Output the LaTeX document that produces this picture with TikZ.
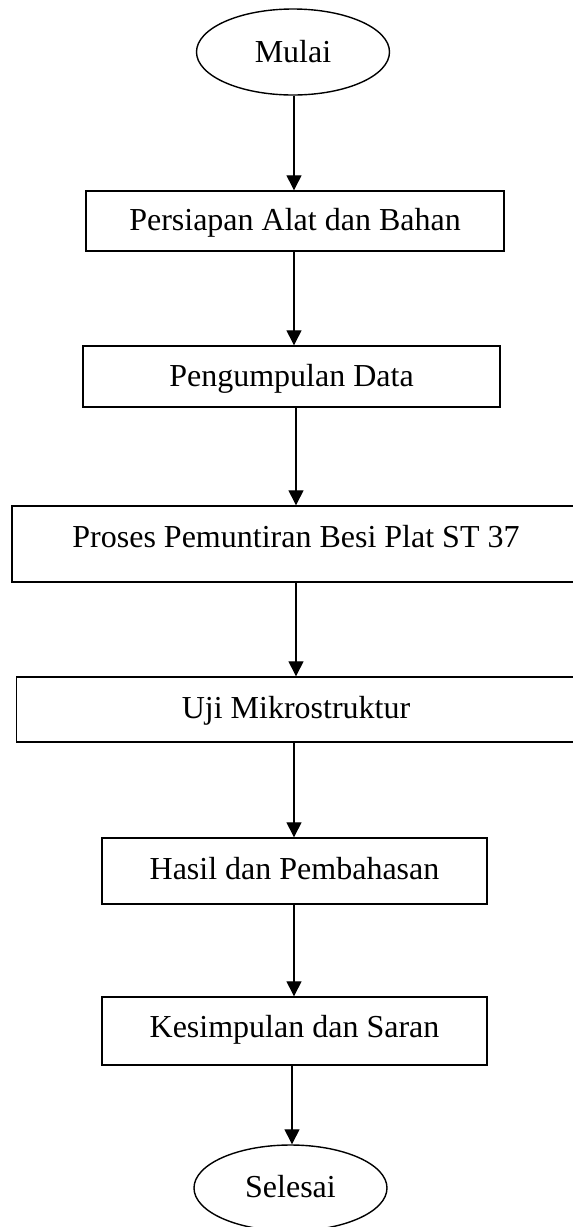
\documentclass[tikz,border=0pt]{standalone}
\usepackage{fontspec}
\setmainfont{Liberation Serif}
\usetikzlibrary{arrows.meta,shapes.geometric}
\begin{document}
\begin{tikzpicture}[x=1pt,y=-1pt,
  every node/.style={font=\fontsize{32}{36}\selectfont},
  procbox/.style={draw,line width=1.4pt,rectangle,inner xsep=0pt,inner ysep=0pt},
  termnode/.style={draw,line width=1.4pt,ellipse,inner sep=0pt},
  flow/.style={line width=1.3pt,-{Triangle[length=15pt,width=15pt]}}]
\useasboundingbox (0,0) rectangle (573,1227);
\node[termnode,minimum width=193pt,minimum height=86pt,text height=22pt,text depth=2pt] (start) at (293,52) {Mulai};
\node[procbox,minimum width=418pt,text height=39pt,text depth=21pt] (b1) at (295,221) {Persiapan Alat dan Bahan};
\node[procbox,minimum width=417pt,text height=40pt,text depth=21pt] (b2) at (291.5,376.5) {Pengumpulan Data};
\node[procbox,minimum width=568pt,text height=41pt,text depth=35pt] (b3) at (296,544) {Proses Pemuntiran Besi Plat ST 37};
\node[procbox,minimum width=559pt,text height=41pt,text depth=24pt] (b4) at (296,709.5) {Uji Mikrostruktur};
\node[procbox,minimum width=385pt,text height=41pt,text depth=25pt] (b5) at (294.5,871) {Hasil dan Pembahasan};
\node[procbox,minimum width=385pt,text height=40pt,text depth=28pt] (b6) at (294.5,1031) {Kesimpulan dan Saran};
\node[termnode,minimum width=193pt,minimum height=86pt,text height=20pt,text depth=2pt] (end) at (290.5,1188) {Selesai};
\coordinate (ax) at (294,0);
\coordinate (ex) at (292,0);
\draw[flow] (start.south -| ax) -- (b1.north -| ax);
\draw[flow] (b1.south -| ax) -- (b2.north -| ax);
\draw[flow] (b2.south -| b3) -- (b3.north -| b3);
\draw[flow] (b3.south -| b3) -- (b4.north -| b3);
\draw[flow] (b4.south -| ax) -- (b5.north -| ax);
\draw[flow] (b5.south -| ax) -- (b6.north -| ax);
\draw[flow] (b6.south -| ex) -- (end.north -| ex);
\end{tikzpicture}
\end{document}
